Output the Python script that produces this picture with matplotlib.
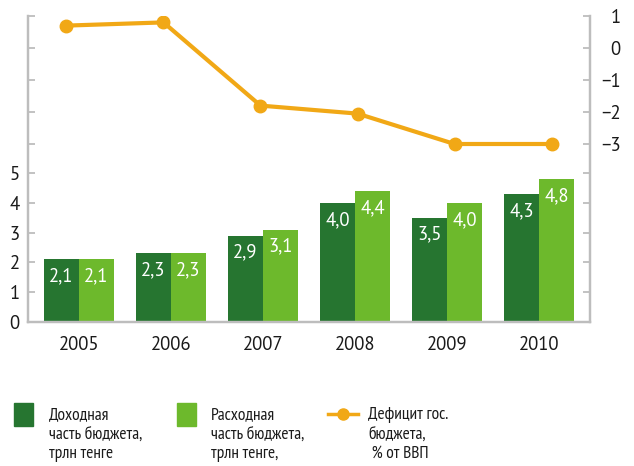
import matplotlib
matplotlib.use("Agg")
import matplotlib.pyplot as plt
import numpy as np
from matplotlib.patches import Rectangle

# данные
years = ["2005", "2006", "2007", "2008", "2009", "2010"]
income = [2.1, 2.3, 2.9, 4.0, 3.5, 4.3]
expense = [2.1, 2.3, 3.1, 4.4, 4.0, 4.8]
deficit = [0.7, 0.8, -1.8, -2.05, -3.0, -3.0]
left_ticks = [0, 1, 2, 3, 4, 5]
right_ticks = [-3, -2, -1, 0, 1]

DARK = "#267530"
LIGHT = "#6db92c"
ORANGE = "#f1a816"
GRAY = "#bdbdbd"
TXT = "#1a1a1a"

plt.rcParams["font.family"] = ["PT Sans", "DejaVu Sans"]
NARROW = ["PT Sans Narrow", "DejaVu Sans"]

W, H = 634, 466
fig = plt.figure(figsize=(W / 100, H / 100), dpi=100)
ax = fig.add_axes([28 / W, 1 - 322 / H, 562 / W, 306 / H])
ax2 = ax.twinx()

x = np.arange(len(years))
bw = 0.38
ax.bar(x - bw / 2, income, bw, color=DARK, zorder=2)
ax.bar(x + bw / 2, expense, bw, color=LIGHT, zorder=2)
for xi, a, b in zip(x, income, expense):
    for dx, v in ((-bw / 2, a), (bw / 2, b)):
        ax.annotate(f"{v:.1f}".replace(".", ","), (xi + dx, v), xytext=(0, -17),
                    textcoords="offset pixels", ha="center", va="center",
                    color="white", fontsize=13.5)

# линия дефицита немного шире по горизонтали, чем группы столбцов
spread = 97 / 92
x_line = (x - x.mean()) * spread + x.mean()
ax2.plot(x_line, deficit, color=ORANGE, lw=3, marker="o", ms=9, zorder=3)

lhi = 306 / 29.8
rlo, rhi = 1 - 306 / 32, 1
ax.set_xlim(-0.554, 5.554)
ax.set_ylim(0, lhi)
ax2.set_ylim(rlo, rhi)

ax.set_yticks(left_ticks)
ax.set_yticks([(r - rlo) / (rhi - rlo) * lhi for r in right_ticks], minor=True)
ax2.set_yticks(right_ticks)
ax2.set_yticklabels([f"{t}".replace("-", "\u2212") for t in right_ticks])
ax2.set_yticks([rlo + l / lhi * (rhi - rlo) for l in left_ticks[1:]], minor=True)

ax.set_xticks(x)
ax.set_xticklabels(years)
ax.tick_params(axis="x", length=0, pad=10, labelsize=13.5, labelcolor=TXT)
for a in (ax, ax2):
    a.tick_params(axis="y", which="both", direction="in", length=5, width=1.3,
                  color=GRAY, labelsize=13.5, labelcolor=TXT)
    for s in a.spines.values():
        s.set_color(GRAY)
        s.set_linewidth(1.6)
    a.spines["top"].set_visible(False)
ax.tick_params(axis="y", pad=6)
ax2.tick_params(axis="y", pad=22)
for lab in ax2.get_yticklabels():
    lab.set_ha("right")

# легенда
lg = fig.add_axes([0, 0, 1, 1], zorder=5)
lg.set_xlim(0, W)
lg.set_ylim(H, 0)
lg.axis("off")
lg.add_patch(Rectangle((14, 403), 19, 23, color=DARK))
lg.add_patch(Rectangle((177, 403), 19, 23, color=LIGHT))
lg.plot([328, 358], [414, 414], color=ORANGE, lw=2.5)
lg.plot([343], [414], "o", color=ORANGE, ms=8)
legend_texts = [
    (49, "Доходная\nчасть бюджета,\nтрлн тенге"),
    (211, "Расходная\nчасть бюджета,\nтрлн тенге,"),
    (368, "Дефицит гос.\nбюджета,\n % от ВВП"),
]
for tx, t in legend_texts:
    lg.text(tx, 407, t, ha="left", va="top", fontsize=12.5, color=TXT,
            family=NARROW, linespacing=1.3)

fig.savefig("out.png", dpi=100)
